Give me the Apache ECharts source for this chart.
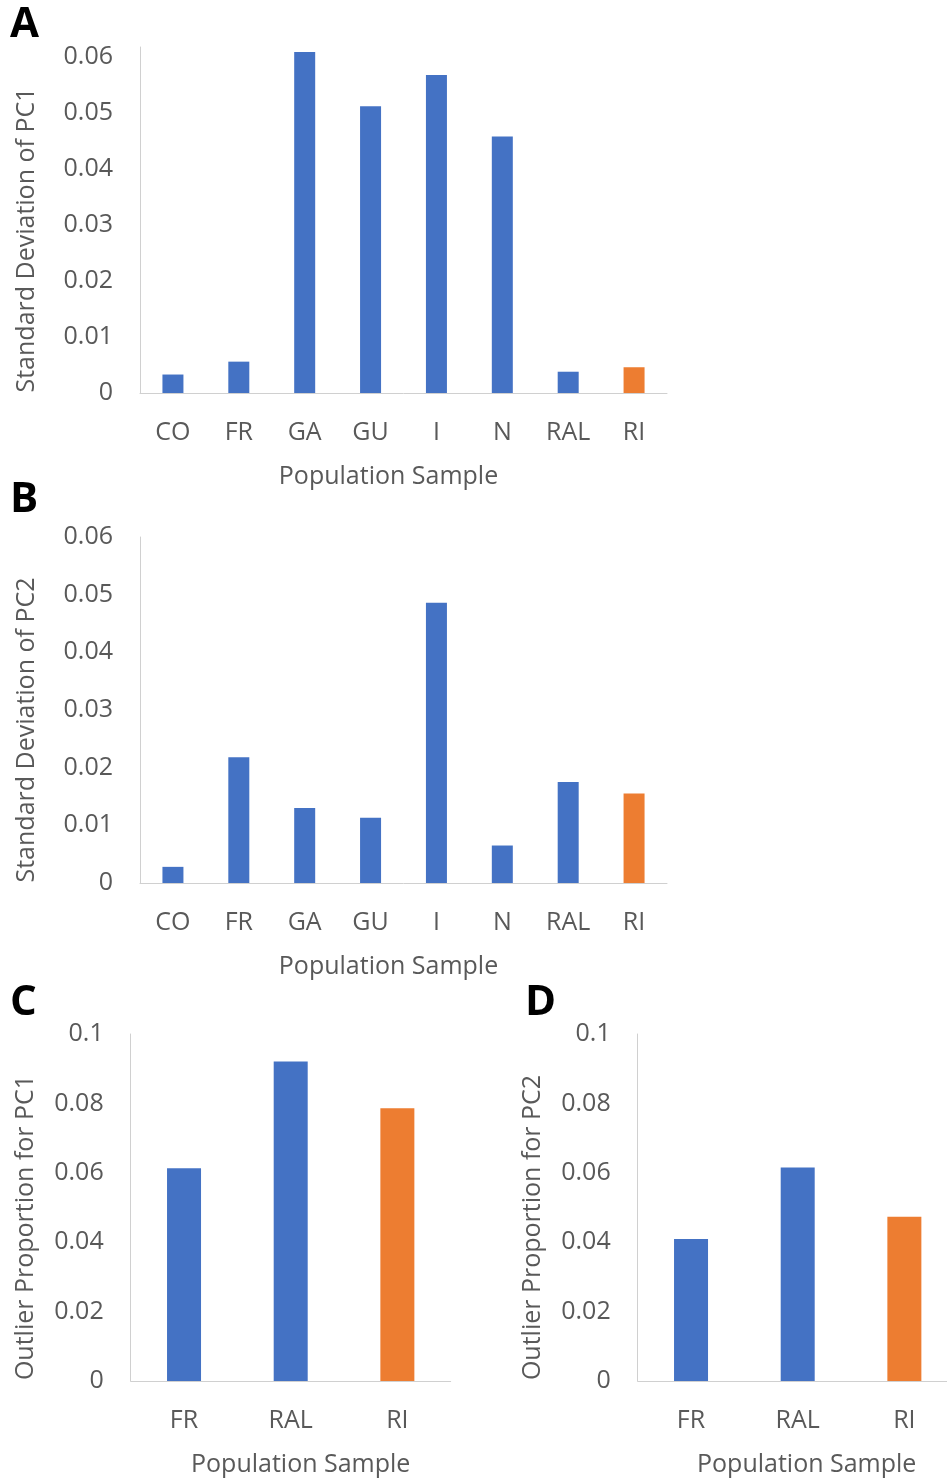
<!DOCTYPE html>
<html>
<head>
<meta charset="utf-8">
<script src="https://cdn.jsdelivr.net/npm/echarts@6/dist/echarts.min.js"></script>
<style>
html,body{margin:0;padding:0;background:#ffffff;overflow:hidden;width:947px;height:1479px;}
#chart{width:958px;height:1479px;}
</style>
</head>
<body>
<div id="chart"></div>
<script>
// ---- data ----
const populations8 = ['CO', 'FR', 'GA', 'GU', 'I', 'N', 'RAL', 'RI'];
const sdPC1 = [0.0033, 0.0056, 0.0609, 0.0512, 0.0568, 0.0458, 0.0038, 0.0046];
const sdPC2 = [0.0028, 0.0218, 0.0130, 0.0113, 0.0486, 0.0065, 0.0175, 0.0155];
const populations3 = ['FR', 'RAL', 'RI'];
const outlierPC1 = [0.0613, 0.0921, 0.0786];
const outlierPC2 = [0.0409, 0.0615, 0.0473];
const highlighted = 'RI';
const panelLetters = ['A', 'B', 'C', 'D'];
const xTitle = 'Population Sample';
const yTitles = ['Standard Deviation of PC1', 'Standard Deviation of PC2',
                 'Outlier Proportion for PC1', 'Outlier Proportion for PC2'];

// ---- style ----
const FONT = "'Open Sans', 'Noto Sans', sans-serif";
const TXT = '#595959';
const AXIS = '#D0D0D0';
const BLUE = '#4472C4';
const ORANGE = '#ED7D31';

const chart = echarts.init(document.getElementById('chart'), null, {renderer: 'canvas'});

const grids = [
  {left: 140, top: 47, width: 527, height: 346},
  {left: 140, top: 537, width: 527, height: 346},
  {left: 130.7, top: 1034, width: 320, height: 347},
  {left: 637.7, top: 1034, width: 320, height: 347}
];
const yMax = [0.0618, 0.06, 0.1, 0.1];
const yInterval = [0.01, 0.01, 0.02, 0.02];
const cats = [populations8, populations8, populations3, populations3];
const vals = [sdPC1, sdPC2, outlierPC1, outlierPC2];
const barW = [21, 21, 34, 34];
const xNamePad = [[0, 30, 0, 0], [0, 30, 0, 0], [0, 0, 0, 20], [0, 0, 0, 18]];
const yNameGap = [101, 101, 92, 92];

const xAxes = [], yAxes = [], series = [];
for (let i = 0; i < 4; i++) {
  xAxes.push({
    type: 'category', gridIndex: i, data: cats[i],
    axisLine: {show: true, lineStyle: {color: AXIS, width: 1}},
    axisTick: {show: false},
    axisLabel: {color: TXT, fontFamily: FONT, fontSize: 25, margin: 27, interval: 0},
    name: xTitle, nameLocation: 'middle', nameGap: 71,
    nameTextStyle: {color: TXT, fontFamily: FONT, fontSize: 25, padding: xNamePad[i]}
  });
  yAxes.push({
    type: 'value', gridIndex: i, min: 0, max: yMax[i], interval: yInterval[i],
    axisLine: {show: true, lineStyle: {color: AXIS, width: 1}},
    axisTick: {show: false},
    splitLine: {show: false},
    axisLabel: {color: TXT, fontFamily: FONT, fontSize: 25, margin: 27,
                showMinLabel: true, showMaxLabel: i !== 0},
    name: yTitles[i], nameLocation: 'middle', nameGap: yNameGap[i], nameRotate: 90,
    nameTextStyle: {color: TXT, fontFamily: FONT, fontSize: 25, padding: [0, 40, 0, 0]}
  });
  series.push({
    type: 'bar', xAxisIndex: i, yAxisIndex: i, barWidth: barW[i],
    data: vals[i].map((v, k) => ({
      value: v,
      itemStyle: {color: cats[i][k] === highlighted ? ORANGE : BLUE}
    }))
  });
}

const letterPos = [[10, 26], [10, 501], [10, 1004], [525, 1004]];
const graphic = panelLetters.map((t, i) => ({
  type: 'text', left: letterPos[i][0], top: letterPos[i][1] - 22,
  style: {text: t, fill: '#000000', font: "bold 42px 'Open Sans', sans-serif"}
}));

chart.setOption({
  animation: false,
  backgroundColor: '#ffffff',
  grid: grids,
  xAxis: xAxes,
  yAxis: yAxes,
  series: series,
  graphic: graphic
});
</script>
</body>
</html>
